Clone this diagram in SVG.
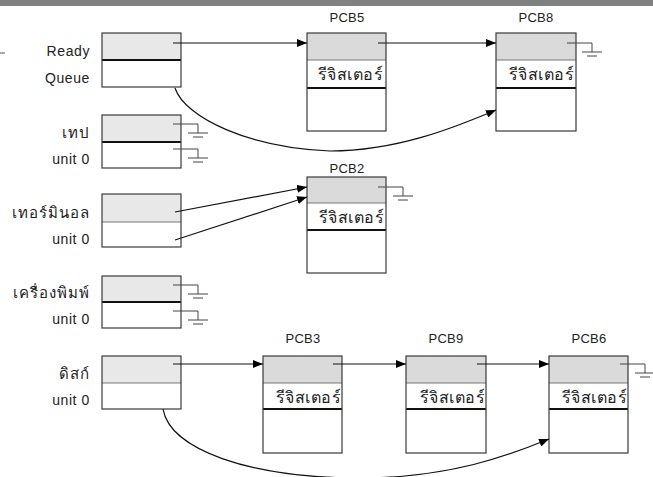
<svg xmlns="http://www.w3.org/2000/svg" xmlns:xlink="http://www.w3.org/1999/xlink" width="653" height="477" viewBox="0 0 653 477">
<style>
.bg{fill:#ffffff}
.band{fill:#808080}
.g1{fill:#e8e8e8}
.g2{fill:#dadada}
.w{fill:#ffffff}
.frame{fill:none;stroke:#3a3a3a;stroke-width:1.2}
.thick{stroke:#111;stroke-width:2}
.thin{stroke:#777;stroke-width:1}
.lbl{font-family:"Liberation Sans","DejaVu Sans",sans-serif;font-size:14px;fill:#222;text-anchor:end;letter-spacing:0.6px}
.tlbl{font-family:"DejaVu Sans",sans-serif;font-size:15px;fill:#222;text-anchor:end;letter-spacing:1px}
.pcb{font-family:"Liberation Sans",sans-serif;font-size:13px;fill:#222;text-anchor:middle;letter-spacing:0.3px}
.reg{font-family:"DejaVu Sans",sans-serif;font-size:16px;fill:#222;text-anchor:end;letter-spacing:0.5px}
.link{stroke:#111;stroke-width:1.2;fill:none}
.gnd{stroke:#444;stroke-width:1;fill:none}
</style>
<defs>
<marker id="ah" viewBox="0 0 10 8" refX="10" refY="4" markerWidth="10" markerHeight="8" markerUnits="userSpaceOnUse" orient="auto">
<path d="M0,0 L10,4 L0,8 z" fill="#000"/>
</marker>
<path id="gsym" class="gnd" d="M0,0 H25 V9 M15,9 H35 M20,13 H30"/>
</defs>
<rect class="bg" x="0" y="0" width="653" height="477"/>
<rect class="band" x="0" y="0" width="653" height="6"/>
<line x1="0" y1="53" x2="5" y2="53" stroke="#555" stroke-width="1"/>

<g id="ready-queue">
<rect class="g1" x="102" y="33" width="79" height="27"/>
<rect class="w" x="102" y="60" width="79" height="27"/>
<line class="thick" x1="102" y1="60" x2="181" y2="60"/>
<rect class="frame" x="102" y="33" width="79" height="54"/>
<text class="lbl" x="90" y="56">Ready</text>
<text class="lbl" x="90" y="83">Queue</text>
</g>

<g id="tape-unit0">
<rect class="g1" x="102" y="115" width="79" height="27"/>
<rect class="w" x="102" y="142" width="79" height="26"/>
<line class="thick" x1="102" y1="142" x2="181" y2="142"/>
<rect class="frame" x="102" y="115" width="79" height="53"/>
<text class="tlbl" x="90" y="138">เทป</text>
<text class="lbl" x="90" y="164">unit 0</text>
<use xlink:href="#gsym" x="173" y="124"/>
<use xlink:href="#gsym" x="173" y="149"/>
</g>

<g id="terminal-unit0">
<rect class="g1" x="102" y="194" width="79" height="28"/>
<rect class="w" x="102" y="222" width="79" height="25"/>
<line class="thin" x1="102" y1="222" x2="181" y2="222"/>
<rect class="frame" x="102" y="194" width="79" height="53"/>
<text class="tlbl" x="90" y="218">เทอร์มินอล</text>
<text class="lbl" x="90" y="244">unit 0</text>
</g>

<g id="printer-unit0">
<rect class="g1" x="102" y="276" width="79" height="26"/>
<rect class="w" x="102" y="302" width="79" height="26"/>
<line class="thick" x1="102" y1="302" x2="181" y2="302"/>
<rect class="frame" x="102" y="276" width="79" height="52"/>
<text class="tlbl" x="90" y="298">เครื่องพิมพ์</text>
<text class="lbl" x="90" y="324">unit 0</text>
<use xlink:href="#gsym" x="173" y="285"/>
<use xlink:href="#gsym" x="173" y="311"/>
</g>

<g id="disk-unit0">
<rect class="g1" x="102" y="356" width="79" height="27"/>
<rect class="w" x="102" y="383" width="79" height="26"/>
<line class="thin" x1="102" y1="383" x2="181" y2="383"/>
<rect class="frame" x="102" y="356" width="79" height="53"/>
<text class="tlbl" x="90" y="379">ดิสก์</text>
<text class="lbl" x="90" y="405">unit 0</text>
</g>

<g id="pcb5">
<text class="pcb" x="347" y="22">PCB5</text>
<rect class="g2" x="307" y="33" width="79" height="27"/>
<rect class="w" x="307" y="60" width="79" height="71"/>
<line class="thin" x1="307" y1="60" x2="386" y2="60"/>
<line class="thick" x1="307" y1="88" x2="386" y2="88"/>
<rect class="frame" x="307" y="33" width="79" height="98"/>
<text class="reg" x="383" y="80">รีจิสเตอร์</text>
</g>

<g id="pcb8">
<text class="pcb" x="536" y="22">PCB8</text>
<rect class="g2" x="496" y="33" width="80" height="27"/>
<rect class="w" x="496" y="60" width="80" height="71"/>
<line class="thin" x1="496" y1="60" x2="576" y2="60"/>
<line class="thick" x1="496" y1="88" x2="576" y2="88"/>
<rect class="frame" x="496" y="33" width="80" height="98"/>
<text class="reg" x="574" y="80">รีจิสเตอร์</text>
<use xlink:href="#gsym" x="567" y="43"/>
</g>

<g id="pcb2">
<text class="pcb" x="347" y="173">PCB2</text>
<rect class="g2" x="307" y="177" width="79" height="26"/>
<rect class="w" x="307" y="203" width="79" height="70"/>
<line class="thin" x1="307" y1="203" x2="386" y2="203"/>
<line class="thick" x1="307" y1="230" x2="386" y2="230"/>
<rect class="frame" x="307" y="177" width="79" height="96"/>
<text class="reg" x="384" y="223">รีจิสเตอร์</text>
<use xlink:href="#gsym" x="378" y="187"/>
</g>

<g id="pcb3">
<text class="pcb" x="303" y="343">PCB3</text>
<rect class="g2" x="263" y="356" width="79" height="27"/>
<rect class="w" x="263" y="383" width="79" height="70"/>
<line class="thin" x1="263" y1="383" x2="342" y2="383"/>
<line class="thick" x1="263" y1="409" x2="342" y2="409"/>
<rect class="frame" x="263" y="356" width="79" height="97"/>
<text class="reg" x="341" y="403">รีจิสเตอร์</text>
</g>

<g id="pcb9">
<text class="pcb" x="446" y="343">PCB9</text>
<rect class="g2" x="406" y="356" width="80" height="27"/>
<rect class="w" x="406" y="383" width="80" height="70"/>
<line class="thin" x1="406" y1="383" x2="486" y2="383"/>
<line class="thick" x1="406" y1="409" x2="486" y2="409"/>
<rect class="frame" x="406" y="356" width="80" height="97"/>
<text class="reg" x="485" y="403">รีจิสเตอร์</text>
</g>

<g id="pcb6">
<text class="pcb" x="589" y="343">PCB6</text>
<rect class="g2" x="549" y="356" width="79" height="27"/>
<rect class="w" x="549" y="383" width="79" height="70"/>
<line class="thin" x1="549" y1="383" x2="628" y2="383"/>
<line class="thick" x1="549" y1="409" x2="628" y2="409"/>
<rect class="frame" x="549" y="356" width="79" height="97"/>
<text class="reg" x="627" y="403">รีจิสเตอร์</text>
<use xlink:href="#gsym" x="620" y="364"/>
</g>

<g id="connectors">
<path class="link" d="M173,43 H307" marker-end="url(#ah)"/>
<path class="link" d="M378,43 H496" marker-end="url(#ah)"/>
<path class="link" d="M175,88 C185,118 250,148 330,151 C400,151 460,125 496,110" marker-end="url(#ah)"/>
<path class="link" d="M175,212 L307,187" marker-end="url(#ah)"/>
<path class="link" d="M175,240 L307,197" marker-end="url(#ah)" stroke="#444"/>
<path class="link" d="M173,364 H263" marker-end="url(#ah)"/>
<path class="link" d="M333,364 H406" marker-end="url(#ah)"/>
<path class="link" d="M477,364 H549" marker-end="url(#ah)"/>
<path class="link" d="M163,409 C170,450 250,478 360,478 C450,478 510,455 549,439" marker-end="url(#ah)"/>
</g>
</svg>
